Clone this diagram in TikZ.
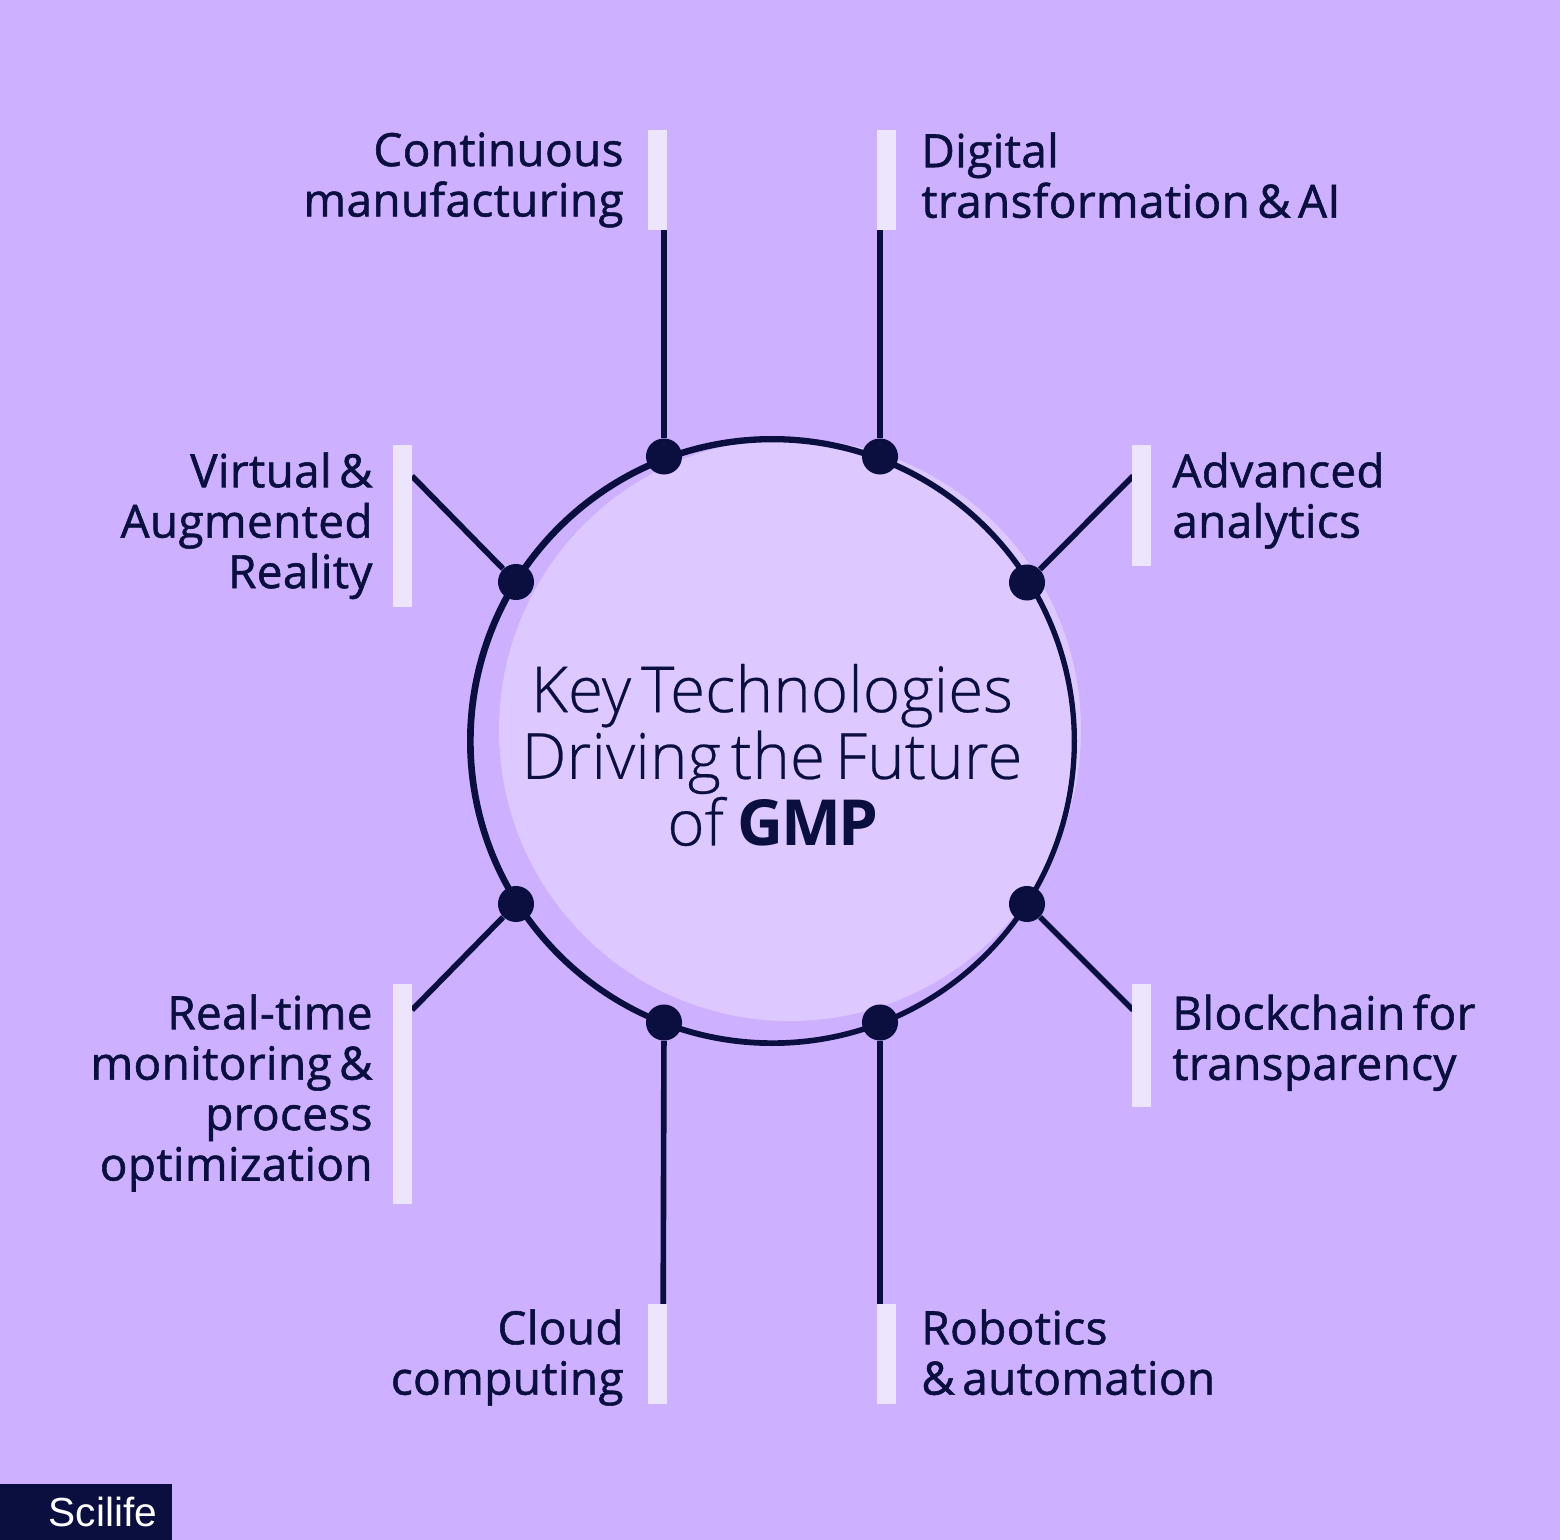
\documentclass[tikz,border=0pt]{standalone}
\usepackage{fontspec}
\setmainfont{Open Sans}[WordSpace=0.6,LetterSpace=0.9,FakeBold=1.2]
\newfontfamily\titlefont{Open Sans Light}[WordSpace=0.6,LetterSpace=0.3,FakeBold=0.4,BoldFont=Open Sans Bold,BoldFeatures={LetterSpace=-3.5,FakeBold=0}]
\newfontfamily\logofont{Liberation Sans}
\definecolor{bgc}{HTML}{CDB0FF}
\definecolor{disc}{HTML}{DDC9FF}
\definecolor{barc}{HTML}{EDE4FE}
\definecolor{navy}{HTML}{0A0F40}
\tikzset{
  px/.style={x=0.48pt,y=-0.48pt},
  lab/.style={text=navy,font=\fontsize{22}{24.2}\selectfont,inner sep=0pt,align=left,anchor=north west},
  labr/.style={text=navy,font=\fontsize{22}{24.2}\selectfont,inner sep=0pt,align=right,anchor=north east},
  dot/.style={circle,fill=navy,minimum size=17.3pt,inner sep=0pt},
  wire/.style={draw=navy,line width=2.7pt},
}
\begin{document}
\begin{tikzpicture}[px]
\useasboundingbox (0,0) rectangle (1560,1540);
\fill[bgc] (0,0) rectangle (1560,1540);
\fill[disc] (790,730) circle (291);
\fill[navy,even odd rule] (772,741) circle (305) (772.7,741.3) circle (299);
\coordinate (c1) at (664,170);\coordinate (c2) at (880,170);
\coordinate (c3) at (1133,476);\coordinate (c4) at (1133,1010);
\coordinate (c5) at (880,1370);\coordinate (c6) at (663,1370);
\coordinate (c7) at (412,1010);\coordinate (c8) at (412,476);
\node[dot] (d1) at (664,456.5) {};
\node[dot] (d2) at (880,456.5) {};
\node[dot] (d3) at (1027,582.5) {};
\node[dot] (d4) at (1027,904) {};
\node[dot] (d5) at (880,1022.5) {};
\node[dot] (d6) at (664,1022.5) {};
\node[dot] (d7) at (516,904) {};
\node[dot] (d8) at (516,582) {};
\draw[wire] (d1) -- (c1);
\draw[wire] (d2) -- (c2);
\draw[wire] (d3) -- (c3);
\draw[wire] (d4) -- (c4);
\draw[wire] (d5) -- (c5);
\draw[wire] (d6) -- (c6);
\draw[wire] (d7) -- (c7);
\draw[wire] (d8) -- (c8);
\fill[barc] (648,130) rectangle (667,230);
\fill[barc] (877,130) rectangle (896,230);
\fill[barc] (1132,445) rectangle (1151,566);
\fill[barc] (1132,984) rectangle (1151,1107);
\fill[barc] (877,1304) rectangle (896,1404);
\fill[barc] (648,1304) rectangle (667,1404);
\fill[barc] (393,984) rectangle (412,1204);
\fill[barc] (393,445) rectangle (412,607);
\node[labr] (t1) at (624,132) {Continuous\\manufacturing};
\node[lab] (t2) at (921,132) {Digital\\transformation \& AI};
\node[lab] (t3) at (1172,452) {Advanced\\analytics};
\node[lab] (t4) at (1172,994) {Blockchain for\\transparency};
\node[lab] (t5) at (921,1309) {Robotics\\\& automation};
\node[labr] (t6) at (624,1309) {Cloud\\computing};
\node[labr] (t7) at (373,994) {Real-time\\monitoring \&\\process\\optimization};
\node[labr] (t8) at (373,452) {Virtual \&\\Augmented\\Reality};
\node[text=navy,font=\titlefont\fontsize{30.5}{32}\selectfont,align=center,inner sep=0pt] (title) at (772,755) {Key Technologies\\Driving the Future\\of \textbf{GMP}};
\fill[navy] (0,1484) rectangle (172,1540);
\node[text=white,font=\logofont\fontsize{19.5}{20}\selectfont,inner sep=0pt,anchor=center] (logo) at (103,1512) {Scilife};
\end{tikzpicture}
\end{document}
